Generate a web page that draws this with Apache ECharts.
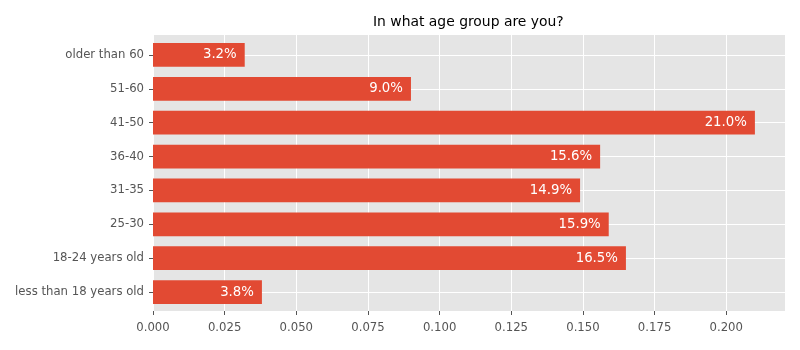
<!DOCTYPE html>
<html>
<head>
<meta charset="utf-8">
<script src="https://cdn.jsdelivr.net/npm/echarts@6/dist/echarts.min.js"></script>
<style>html,body{margin:0;padding:0;background:#fff}#c{width:800px;height:350px}</style>
</head>
<body>
<div id="c"></div>
<script>
const categories = ['less than 18 years old','18-24 years old','25-30','31-35','36-40','41-50','51-60','older than 60'];
const shares = [0.038, 0.165, 0.159, 0.149, 0.156, 0.210, 0.090, 0.032];
const xTicks = [0, 0.025, 0.05, 0.075, 0.1, 0.125, 0.15, 0.175, 0.2];
const title = 'In what age group are you?';

const FONT = 'DejaVu Sans';
const chart = echarts.init(document.getElementById('c'), null, {renderer: 'canvas'});
const L = 153, R = 15;
chart.setOption({
  animation: false,
  title: {
    text: title, left: 368, top: 10,
    textStyle: {fontFamily: FONT, fontSize: 13.9, fontWeight: 'normal', color: '#000'}
  },
  grid: [
    {left: L, right: R, top: 35, height: 276, show: true, backgroundColor: '#E5E5E5', borderWidth: 0},
    {left: L, right: R, top: 55, height: 237, show: false},
    {left: L, right: R, top: 38, height: 271, show: false}
  ],
  xAxis: [
    {gridIndex: 0, type: 'value', min: 0, max: 0.2205, interval: 0.025,
     axisLine: {show: false},
     axisTick: {show: true, length: 4, lineStyle: {color: '#555', width: 1}},
     axisLabel: {show: true, margin: 11, color: '#555', fontFamily: FONT, fontSize: 11.7, showMaxLabel: false,
       formatter: v => xTicks.some(t => Math.abs(t - v) < 1e-9) ? v.toFixed(3) : ''},
     splitLine: {show: true, lineStyle: {color: '#fff', width: 1}}},
    {gridIndex: 1, type: 'value', min: 0, max: 0.2205, show: false},
    {gridIndex: 2, type: 'value', min: 0, max: 0.2205, show: false}
  ],
  yAxis: [
    {gridIndex: 0, type: 'value', min: 0, max: 1, show: false},
    {gridIndex: 1, type: 'category', data: categories, boundaryGap: false,
     axisLine: {show: false}, axisTick: {show: false}, axisLabel: {show: false},
     splitLine: {show: true, lineStyle: {color: '#fff', width: 1}}},
    {gridIndex: 2, type: 'category', data: categories,
     axisLine: {show: false},
     axisTick: {show: true, alignWithLabel: true, length: 4, lineStyle: {color: '#555', width: 1}},
     axisLabel: {margin: 9, color: '#555', fontFamily: FONT, fontSize: 11.7, padding: [2, 0, 0, 0]},
     splitLine: {show: false}}
  ],
  series: [{
    type: 'bar', xAxisIndex: 2, yAxisIndex: 2, data: shares, barWidth: '70%',
    itemStyle: {color: '#E24A33'},
    label: {show: true, position: 'insideRight', distance: 8, color: '#fff',
      fontFamily: FONT, fontSize: 13.3, formatter: p => (p.value * 100).toFixed(1) + '%'}
  }]
});
</script>
</body>
</html>
